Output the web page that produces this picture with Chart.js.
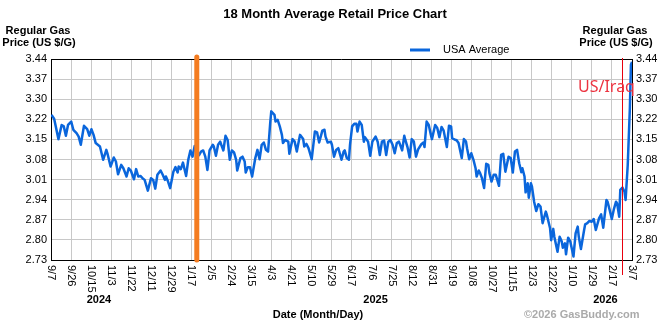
<!DOCTYPE html>
<html>
<head>
<meta charset="utf-8">
<script src="https://cdn.jsdelivr.net/npm/chart.js@4.4.1/dist/chart.umd.min.js"></script>
<style>
  html, body { margin: 0; padding: 0; background: #fff; }
  #wrap { width: 670px; height: 325px; }
</style>
</head>
<body>
<div id="wrap"><canvas id="gas-chart" width="670" height="325"></canvas></div>
<script>
// day 0 = 9/7/2024, last day = 3/7/2026
const totalDays = 546;
const dateLabels = ['9/7', '9/26', '10/15', '11/3', '11/22', '12/11', '12/29', '1/17', '2/5', '2/24',
    '3/15', '4/3', '4/21', '5/10', '5/29', '6/17', '7/6', '7/25', '8/12', '8/31',
    '9/19', '10/8', '10/27', '11/15', '12/3', '12/22', '1/10', '1/29', '2/17', '3/7'];
const yearLabels = ['2024', '2025', '2026'];
const yearDays = [45, 305, 521];
const priceTicks = ['2.73', '2.80', '2.87', '2.94', '3.01', '3.08', '3.15', '3.22', '3.30', '3.37', '3.44'];
const priceMin = 2.73;
const priceMax = 3.44;

const days = [0, 1, 3, 7, 10, 12, 14, 16, 19, 21, 24, 26, 28, 31, 34, 36, 38, 40, 42, 44, 46, 49, 52, 53, 56, 59, 61, 63, 66, 68,
    71, 73, 75, 78, 80, 82, 84, 86, 88, 91, 94, 96, 98, 100, 103, 105, 107, 108, 110, 112, 115, 117, 119, 120, 122, 124, 127, 129, 131, 133,
    135, 137, 139, 141, 143, 145, 147, 149, 152, 153, 155, 157, 159, 160, 162, 164, 166, 168, 170, 172, 174, 175, 178, 180, 182, 183, 185, 187, 189, 192,
    194, 196, 198, 200, 202, 204, 206, 207, 210, 211, 213, 215, 217, 218, 220, 223, 224, 227, 229, 231, 234, 237, 238, 240, 242, 245, 248, 250, 252, 255,
    257, 258, 260, 263, 264, 266, 268, 270, 273, 275, 276, 278, 280, 281, 283, 285, 287, 288, 290, 292, 294, 295, 298, 300, 302, 305, 307, 309, 311, 313,
    315, 317, 319, 321, 323, 325, 327, 330, 332, 333, 335, 337, 339, 341, 343, 345, 348, 350, 351, 353, 355, 357, 358, 361, 363, 365, 367, 369, 372, 374,
    376, 377, 380, 381, 383, 386, 388, 390, 391, 393, 395, 397, 399, 400, 402, 403, 405, 407, 409, 411, 412, 414, 416, 418, 421, 423, 425, 427, 430, 432,
    434, 436, 438, 440, 442, 443, 445, 446, 448, 449, 451, 452, 454, 456, 458, 460, 462, 465, 466, 469, 470, 472, 473, 476, 478, 480, 481, 483, 484, 486,
    488, 491, 493, 495, 496, 498, 501, 502, 504, 506, 508, 510, 512, 515, 517, 519, 522, 523, 525, 527, 529, 531, 532, 534, 535, 537, 539, 540, 542, 544,
    545, 546];
const prices = [3.237, 3.240, 3.228, 3.157, 3.207, 3.202, 3.169, 3.207, 3.219, 3.190, 3.178, 3.166, 3.137, 3.204, 3.192, 3.169, 3.192, 3.172, 3.143, 3.137,
    3.131, 3.084, 3.119, 3.107, 3.060, 3.092, 3.078, 3.033, 3.066, 3.054, 3.025, 3.054, 3.046, 3.015, 3.051, 3.025, 3.027, 3.019, 3.013, 2.975,
    3.019, 3.013, 2.982, 3.031, 3.046, 3.031, 3.013, 3.025, 3.007, 2.984, 3.042, 3.058, 3.039, 3.060, 3.051, 3.074, 3.027, 3.084, 3.117, 3.095,
    3.133, 3.120, 3.100, 3.113, 3.117, 3.095, 3.048, 3.117, 3.137, 3.131, 3.098, 3.137, 3.148, 3.137, 3.117, 3.169, 3.154, 3.084, 3.117, 3.110,
    3.084, 3.046, 3.090, 3.095, 3.078, 3.039, 3.058, 3.058, 3.025, 3.090, 3.119, 3.086, 3.137, 3.145, 3.119, 3.113, 3.214, 3.255, 3.243, 3.219,
    3.225, 3.202, 3.172, 3.143, 3.154, 3.148, 3.105, 3.157, 3.148, 3.113, 3.172, 3.157, 3.131, 3.140, 3.125, 3.086, 3.184, 3.181, 3.145, 3.187,
    3.190, 3.166, 3.145, 3.148, 3.137, 3.095, 3.119, 3.125, 3.084, 3.113, 3.117, 3.090, 3.084, 3.137, 3.202, 3.211, 3.211, 3.184, 3.219, 3.207,
    3.148, 3.164, 3.148, 3.098, 3.148, 3.166, 3.148, 3.101, 3.148, 3.152, 3.101, 3.148, 3.154, 3.137, 3.107, 3.143, 3.148, 3.117, 3.169, 3.154,
    3.129, 3.092, 3.157, 3.148, 3.095, 3.121, 3.139, 3.145, 3.129, 3.219, 3.207, 3.172, 3.157, 3.207, 3.196, 3.164, 3.200, 3.187, 3.129, 3.204,
    3.202, 3.160, 3.154, 3.154, 3.143, 3.090, 3.157, 3.148, 3.125, 3.086, 3.107, 3.084, 3.054, 3.025, 3.046, 3.039, 3.019, 2.984, 3.070, 3.066,
    3.037, 3.007, 3.031, 3.031, 2.992, 3.101, 3.105, 3.042, 3.095, 3.090, 3.039, 3.113, 3.119, 3.072, 3.040, 3.054, 3.025, 2.969, 3.001, 2.950,
    3.001, 2.989, 2.936, 2.903, 2.927, 2.919, 2.860, 2.901, 2.889, 2.842, 2.800, 2.840, 2.812, 2.759, 2.812, 2.795, 2.773, 2.789, 2.750, 2.809,
    2.795, 2.742, 2.824, 2.848, 2.812, 2.769, 2.836, 2.856, 2.860, 2.868, 2.865, 2.875, 2.836, 2.877, 2.891, 2.844, 2.942, 2.936, 2.907, 2.875,
    2.910, 2.936, 2.930, 2.883, 2.978, 2.986, 2.971, 2.942, 3.066, 3.267, 3.420, 3.430];

// event markers (day numbers)
const inaugurationDay = 137;
const iraqDay = 537;
const iraqLabel = 'US/Iraq';

const points = days.map((d, i) => ({ x: d, y: prices[i] }));

const gridColor = '#c8c8c8';
const tickFont = { family: 'Liberation Sans, Arial, sans-serif', size: 11 };

// texts, markers and rotated date labels
const extrasPlugin = {
    id: 'extras',
    afterDatasetsDraw(chart) {
        const ctx = chart.ctx;
        const area = chart.chartArea;
        const xs = chart.scales.x;

        ctx.save();
        // top border
        ctx.strokeStyle = '#000';
        ctx.lineWidth = 1;
        ctx.beginPath();
        ctx.moveTo(area.left, area.top + 0.5);
        ctx.lineTo(area.right, area.top + 0.5);
        ctx.stroke();

        // orange marker
        const ox = xs.getPixelForValue(inaugurationDay);
        ctx.strokeStyle = '#f47c20';
        ctx.lineWidth = 5;
        ctx.lineCap = 'round';
        ctx.beginPath();
        ctx.moveTo(ox, area.top - 2);
        ctx.lineTo(ox, area.bottom);
        ctx.stroke();

        // red marker
        const rx = Math.round(xs.getPixelForValue(iraqDay)) + 0.5;
        ctx.strokeStyle = '#e8000e';
        ctx.lineWidth = 1;
        ctx.lineCap = 'butt';
        ctx.beginPath();
        ctx.moveTo(rx, area.top - 1);
        ctx.lineTo(rx, area.bottom + 15);
        ctx.stroke();

        ctx.fillStyle = '#ec3340';
        ctx.font = '16px "Noto Sans", sans-serif';
        ctx.textAlign = 'left';
        ctx.textBaseline = 'middle';
        ctx.fillText(iraqLabel, 578, 87);
        ctx.restore();
    },
    afterDraw(chart) {
        const ctx = chart.ctx;
        const area = chart.chartArea;
        const xs = chart.scales.x;
        ctx.save();
        ctx.fillStyle = '#000';

        // date labels, rotated clockwise
        ctx.font = '11px "Liberation Sans", Arial, sans-serif';
        ctx.textAlign = 'left';
        ctx.textBaseline = 'middle';
        dateLabels.forEach((lbl, i) => {
            const x = xs.getPixelForValue(i * totalDays / (dateLabels.length - 1));
            ctx.save();
            ctx.translate(x, area.bottom + 5);
            ctx.rotate(Math.PI / 2);
            ctx.fillText(lbl, 0, 0);
            ctx.restore();
        });

        // years
        ctx.font = 'bold 11px "Liberation Sans", Arial, sans-serif';
        ctx.textAlign = 'center';
        yearLabels.forEach((y, i) => {
            ctx.fillText(y, xs.getPixelForValue(yearDays[i]), 300);
        });

        // title
        ctx.font = 'bold 13px "Liberation Sans", Arial, sans-serif';
        ctx.fillText('18 Month Average Retail Price Chart', 335, 14);

        // axis titles
        ctx.font = 'bold 11px "Liberation Sans", Arial, sans-serif';
        ctx.fillText('Regular Gas', 38, 31);
        ctx.fillText('Price (US $/G)', 39, 43);
        ctx.fillText('Regular Gas', 615, 31);
        ctx.fillText('Price (US $/G)', 616, 43);
        ctx.fillText('Date (Month/Day)', 318, 315);

        // copyright
        ctx.fillStyle = '#aaaaaa';
        ctx.textAlign = 'left';
        ctx.fillText('\u00a92026 GasBuddy.com', 524, 315);

        // legend
        ctx.strokeStyle = '#0a66dc';
        ctx.lineWidth = 3;
        ctx.beginPath();
        ctx.moveTo(410, 50);
        ctx.lineTo(430, 50);
        ctx.stroke();
        ctx.fillStyle = '#000';
        ctx.font = '11px "Liberation Sans", Arial, sans-serif';
        ctx.fillText('USA Average', 443, 50);
        ctx.restore();
    }
};

function priceAxis(position, width) {
    return {
        type: 'linear',
        position: position,
        min: priceMin,
        max: priceMax,
        afterBuildTicks: (axis) => {
            axis.ticks = priceTicks.map((t, i) => ({ value: priceMin + i * (priceMax - priceMin) / (priceTicks.length - 1) }));
        },
        afterFit: (axis) => { axis.width = width; },
        ticks: {
            color: '#000',
            font: tickFont,
            padding: 4,
            callback: (v, i) => priceTicks[i]
        },
        grid: {
            color: gridColor,
            drawTicks: false,
            drawOnChartArea: position === 'left'
        },
        border: { color: '#000', width: 1 }
    };
}

new Chart(document.getElementById('gas-chart').getContext('2d'), {
    type: 'line',
    data: {
        datasets: [{
            label: 'USA Average',
            data: points,
            borderColor: '#0a66dc',
            borderWidth: 2.5,
            pointRadius: 0,
            tension: 0,
            borderJoinStyle: 'round'
        }]
    },
    options: {
        responsive: false,
        animation: false,
        events: [],
        layout: { padding: { top: 59, left: 0, right: 0, bottom: 0 } },
        plugins: {
            legend: { display: false },
            tooltip: { enabled: false }
        },
        scales: {
            x: {
                type: 'linear',
                min: 0,
                max: totalDays,
                afterBuildTicks: (axis) => {
                    axis.ticks = dateLabels.map((l, i) => ({ value: i * totalDays / (dateLabels.length - 1) }));
                },
                afterFit: (axis) => { axis.height = 65; },
                ticks: { display: false },
                grid: { color: gridColor, drawTicks: false },
                border: { color: '#000', width: 1 }
            },
            y: priceAxis('left', 51),
            y2: priceAxis('right', 38)
        }
    },
    plugins: [extrasPlugin]
});
</script>
</body>
</html>
